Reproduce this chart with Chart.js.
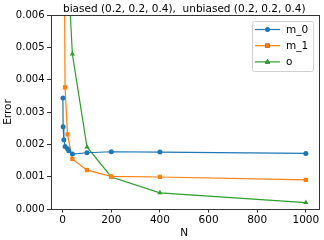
<!DOCTYPE html>
<html>
<head>
<meta charset="utf-8">
<script src="https://cdn.jsdelivr.net/npm/chart.js"></script>
<style>
  html, body { margin: 0; padding: 0; background: #fff; }
  #wrap { width: 324px; height: 240px; position: relative; }
</style>
</head>
<body>
<div id="wrap"><canvas id="errorChart"></canvas></div>
<script>
const TITLE = 'biased (0.2, 0.2, 0.4),  unbiased (0.2, 0.2, 0.4)';

const nM0 = [1, 2, 5, 10, 20, 25, 40, 100, 200, 400, 1000];
const errM0 = [0.00343, 0.00254, 0.00214, 0.00193, 0.00186, 0.00180, 0.00170, 0.00174, 0.00177, 0.00176, 0.00172];

const nM1 = [5, 10, 20, 40, 100, 200, 400, 1000];
const errM1 = [0.0100, 0.00376, 0.00231, 0.00155, 0.00120, 0.00101, 0.00099, 0.00090];

const nO = [20, 40, 100, 200, 400, 1000];
const errO = [0.0077, 0.00479, 0.00192, 0.00099, 0.00050, 0.00020];

const xTicks = [0, 200, 400, 600, 800, 1000];
const yTicks = [0, 0.001, 0.002, 0.003, 0.004, 0.005, 0.006];

const FONT = 'DejaVu Sans';

function pts(xs, ys) {
    return xs.map((x, i) => ({ x: x, y: ys[i] }));
}

// title centred over the axes, like matplotlib
const titlePlugin = {
    id: 'axesTitle',
    afterDraw(chart) {
        const ctx = chart.ctx;
        const a = chart.chartArea;
        ctx.save();
        ctx.font = '10.5px ' + FONT;
        ctx.fillStyle = '#000';
        ctx.textAlign = 'center';
        ctx.textBaseline = 'alphabetic';
        ctx.fillText(TITLE, (a.left + a.right) / 2, a.top - 3.5);
        ctx.restore();
    }
};

// box around the axes
const framePlugin = {
    id: 'frame',
    afterDatasetsDraw(chart) {
        const ctx = chart.ctx;
        const a = chart.chartArea;
        ctx.save();
        ctx.strokeStyle = '#333';
        ctx.lineWidth = 1;
        ctx.strokeRect(Math.round(a.left) + 0.5, Math.round(a.top) + 0.5,
            Math.round(a.right - a.left), Math.round(a.bottom - a.top));
        ctx.restore();
    }
};

// legend in the upper right corner inside the axes
const legendPlugin = {
    id: 'innerLegend',
    afterDraw(chart) {
        const ctx = chart.ctx;
        const a = chart.chartArea;
        const w = 61, h = 50;
        const left = a.right - 5 - w;
        const top = a.top + 6;
        ctx.save();
        ctx.fillStyle = 'rgba(255,255,255,0.8)';
        ctx.strokeStyle = '#d0d0d0';
        ctx.lineWidth = 1;
        ctx.beginPath();
        if (ctx.roundRect) ctx.roundRect(left + 0.5, top + 0.5, w, h, 2);
        else ctx.rect(left + 0.5, top + 0.5, w, h);
        ctx.fill();
        ctx.stroke();

        chart.data.datasets.forEach((ds, i) => {
            const y = top + 8.5 + i * 16.2;
            ctx.strokeStyle = ds.borderColor;
            ctx.lineWidth = 1.2;
            ctx.beginPath();
            ctx.moveTo(left + 3, y);
            ctx.lineTo(left + 28, y);
            ctx.stroke();
            if (Chart.helpers && Chart.helpers.drawPoint) {
                Chart.helpers.drawPoint(ctx, {
                    pointStyle: ds.pointStyle,
                    radius: ds.pointRadius,
                    borderWidth: 0,
                    rotation: 0
                }, left + 15.5, y);
                ctx.fillStyle = ds.borderColor;
                ctx.fill();
            }
            ctx.fillStyle = '#000';
            ctx.font = '10.5px ' + FONT;
            ctx.textAlign = 'left';
            ctx.textBaseline = 'middle';
            ctx.fillText(ds.label, left + 34, y + 0.5);
        });
        ctx.restore();
    }
};

const ctx = document.getElementById('errorChart').getContext('2d');

new Chart(ctx, {
    type: 'scatter',
    data: {
        datasets: [{
            label: 'm_0',
            data: pts(nM0, errM0),
            borderColor: '#1f77b4',
            backgroundColor: '#1f77b4',
            pointStyle: 'circle',
            pointRadius: 2.5
        }, {
            label: 'm_1',
            data: pts(nM1, errM1),
            borderColor: '#ff7f0e',
            backgroundColor: '#ff7f0e',
            pointStyle: 'rect',
            pointRadius: 3
        }, {
            label: 'o',
            data: pts(nO, errO),
            borderColor: '#2ca02c',
            backgroundColor: '#2ca02c',
            pointStyle: 'triangle',
            pointRadius: 3
        }]
    },
    options: {
        responsive: true,
        maintainAspectRatio: false,
        animation: false,
        showLine: true,
        datasets: {
            scatter: { borderWidth: 1.2, pointBorderWidth: 0, showLine: true }
        },
        layout: { padding: { top: 15, right: 6, left: 0, bottom: 0 } },
        plugins: {
            legend: { display: false },
            tooltip: { enabled: false },
            title: { display: false }
        },
        scales: {
            x: {
                type: 'linear',
                min: -49.95,
                max: 1049.95,
                afterBuildTicks(scale) {
                    scale.ticks = xTicks.map(v => ({ value: v }));
                },
                afterFit(scale) { scale.height = 31; },
                grid: {
                    drawOnChartArea: false,
                    drawTicks: true,
                    tickLength: 3.5,
                    color: '#333'
                },
                border: { display: false },
                ticks: {
                    color: '#000',
                    padding: 1,
                    maxRotation: 0,
                    font: { family: FONT, size: 10.5 },
                    callback: v => String(v)
                },
                title: {
                    display: true,
                    text: 'N',
                    color: '#000',
                    padding: { top: 0, bottom: 0 },
                    font: { family: FONT, size: 10.5 }
                }
            },
            y: {
                type: 'linear',
                min: 0,
                max: 0.006,
                afterBuildTicks(scale) {
                    scale.ticks = yTicks.map(v => ({ value: v }));
                },
                afterFit(scale) { scale.width = 50.5; },
                grid: {
                    drawOnChartArea: false,
                    drawTicks: true,
                    tickLength: 3.5,
                    color: '#333'
                },
                border: { display: false },
                ticks: {
                    color: '#000',
                    padding: 2.5,
                    font: { family: FONT, size: 10 },
                    callback: v => Number(v).toFixed(3)
                },
                title: {
                    display: true,
                    text: 'Error',
                    color: '#000',
                    padding: { top: 2, bottom: 0 },
                    font: { family: FONT, size: 10.5 }
                }
            }
        }
    },
    plugins: [framePlugin, titlePlugin, legendPlugin]
});
</script>
</body>
</html>
